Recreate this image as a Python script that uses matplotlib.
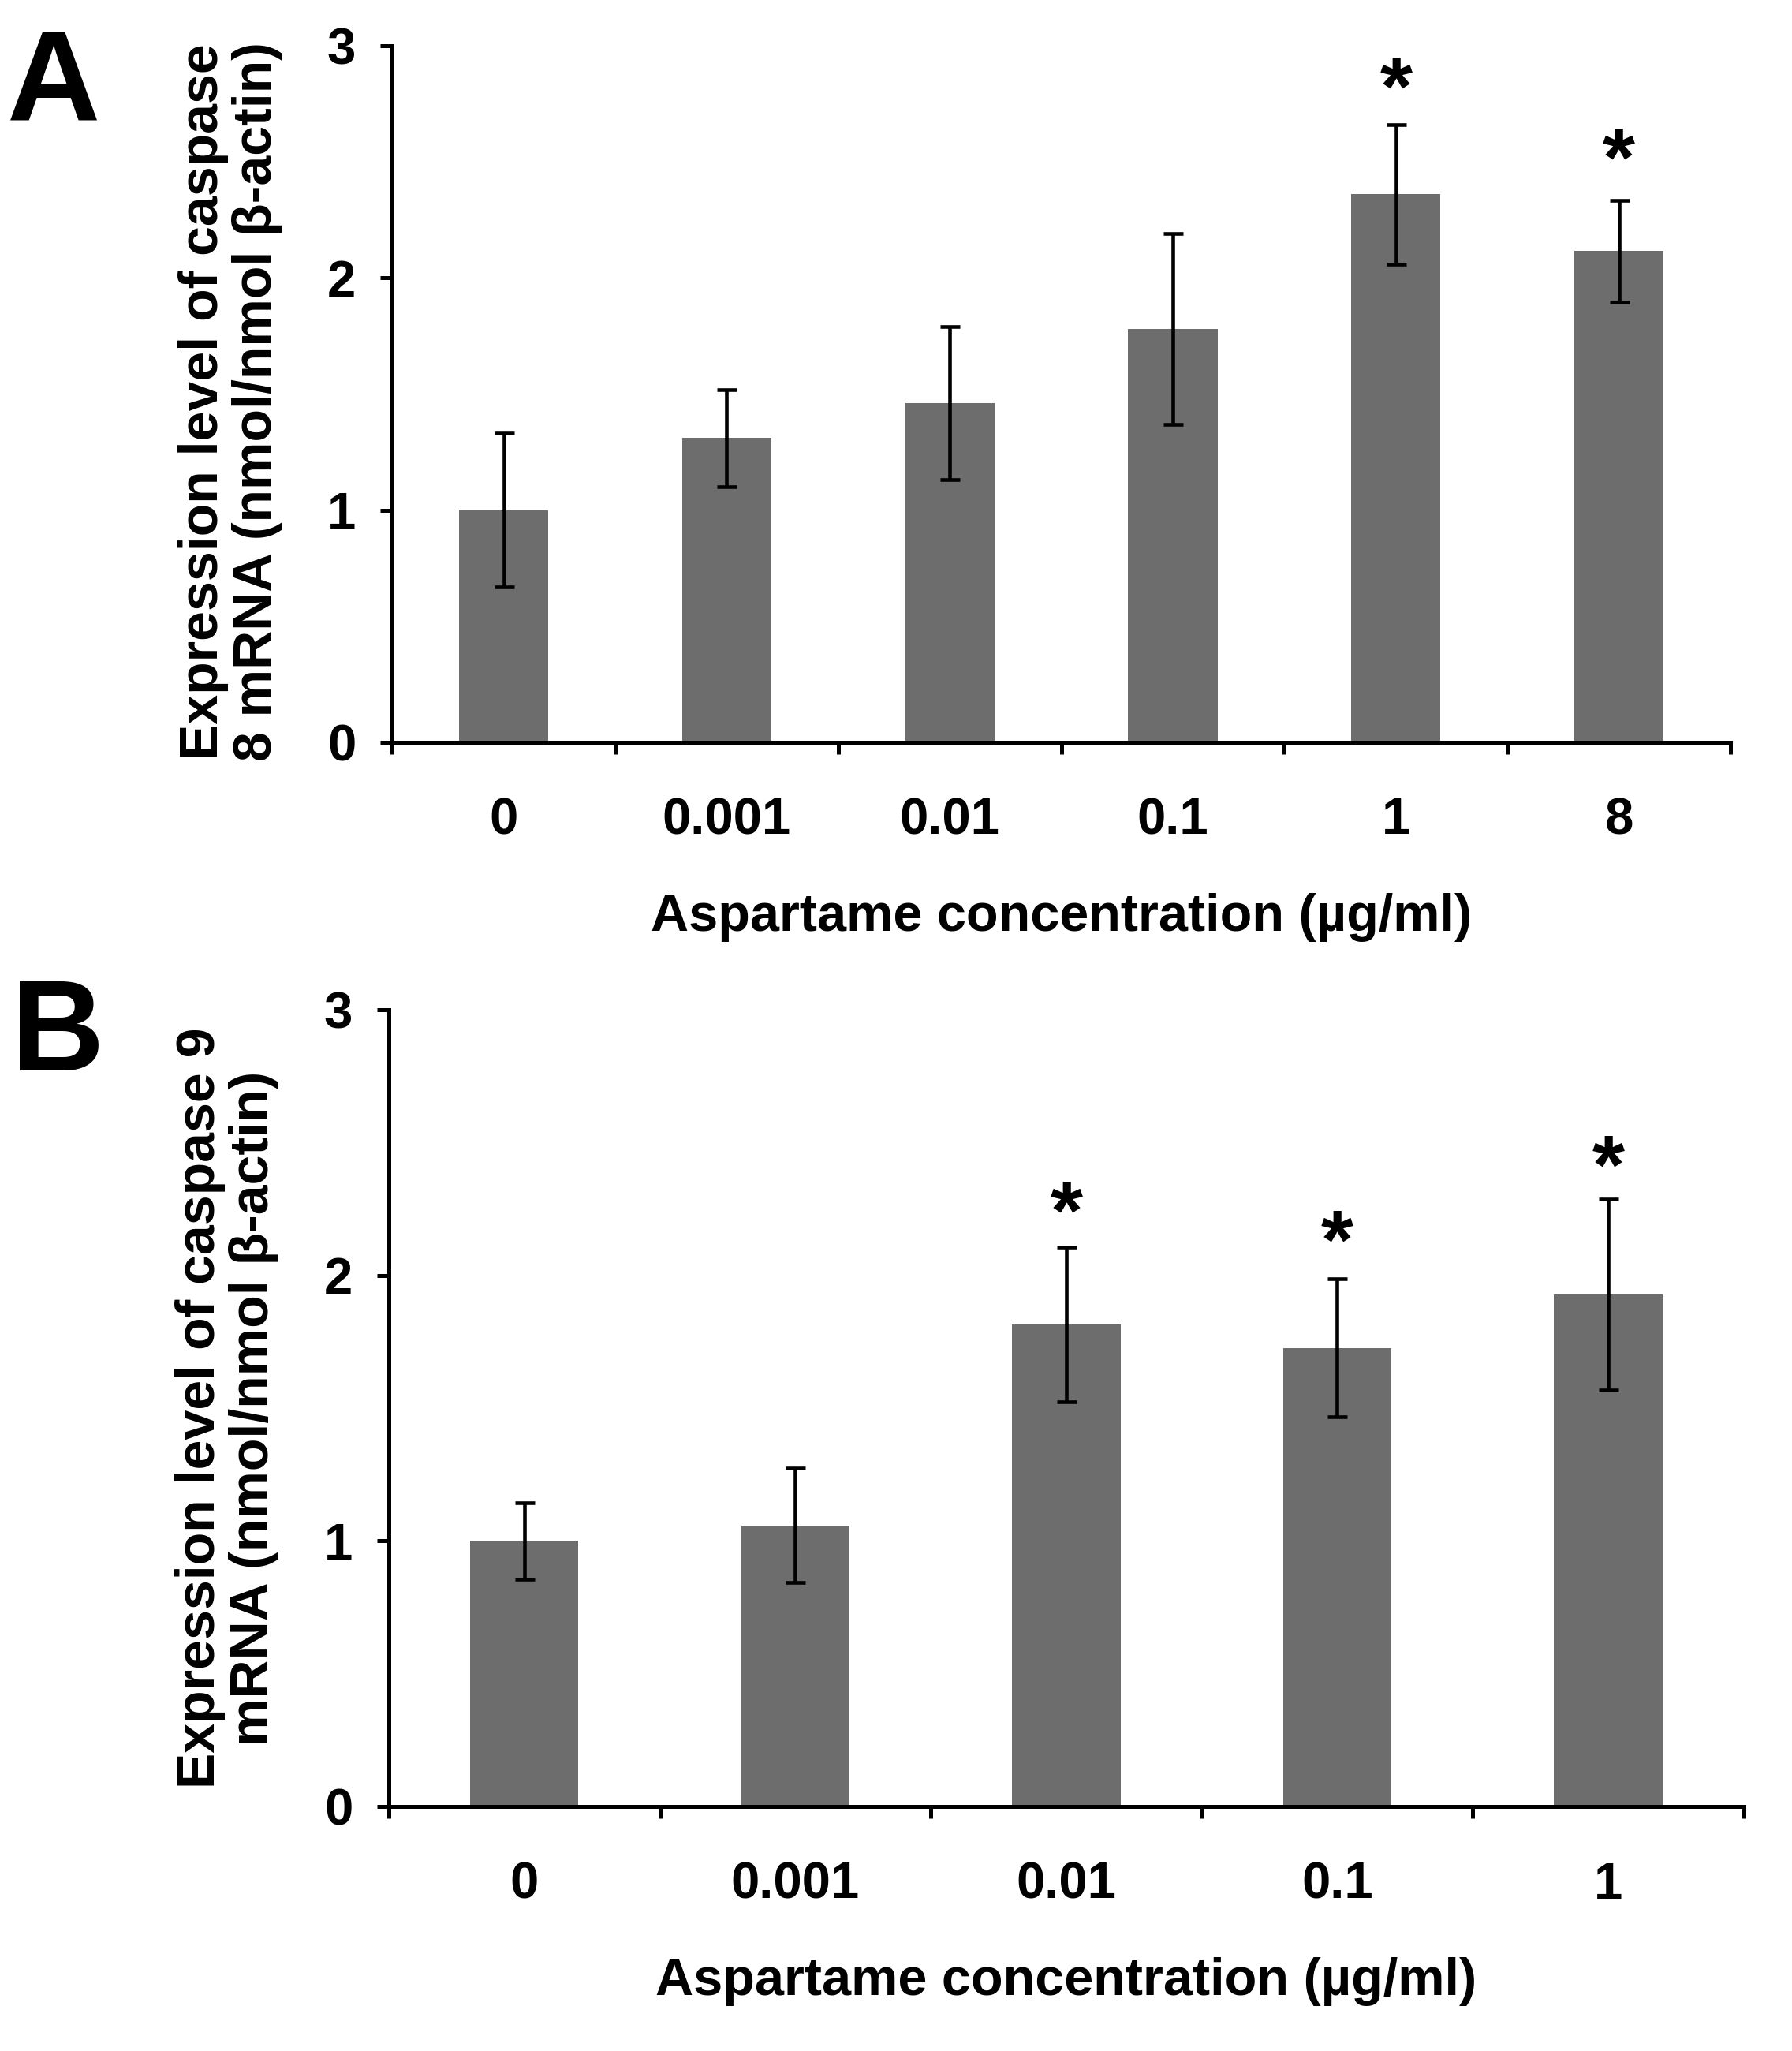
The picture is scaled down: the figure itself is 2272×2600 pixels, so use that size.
import matplotlib
matplotlib.use('Agg')
import matplotlib.pyplot as plt
import numpy as np

plt.rcParams['font.family'] = ['Liberation Sans', 'DejaVu Sans']
plt.rcParams['font.weight'] = 'bold'

# panel A: caspase 8
conc_a = ['0', '0.001', '0.01', '0.1', '1', '8']
mean_a = [1.00, 1.31, 1.46, 1.78, 2.36, 2.115]
err_a = [0.33, 0.21, 0.33, 0.41, 0.30, 0.22]
star_a = [None, None, None, None, 2.875, 2.57]

# panel B: caspase 9
conc_b = ['0', '0.001', '0.01', '0.1', '1']
mean_b = [1.00, 1.058, 1.815, 1.727, 1.928]
err_b = [0.145, 0.215, 0.29, 0.26, 0.36]
star_b = [None, None, 2.29, 2.18, 2.46]

bar_color = '#6d6d6d'
xlabel = 'Aspartame concentration (µg/ml)'
W, H = 2272, 2600


def draw_panel(ax, cats, means, errs, stars, ylabel, ylab_y):
    n = len(cats)
    x = np.arange(n) + 0.5
    ax.bar(x, means, width=0.4, color=bar_color, zorder=2)
    ax.errorbar(x, means, yerr=errs, fmt='none', ecolor='black',
                elinewidth=3.3, capsize=9, capthick=3.3, zorder=3)
    for xi, s in zip(x, stars):
        if s is not None:
            ax.annotate('*', (xi, s), xytext=(0, -17), textcoords='offset points',
                        ha='center', va='center', fontsize=76, fontweight='bold')
    ax.set_xlim(0, n)
    ax.set_ylim(0, 3)
    ax.set_yticks([0, 1, 2, 3])
    ax.set_xticks(x, cats)
    ax.set_xticks(np.arange(n + 1), minor=True)
    for side in ['top', 'right']:
        ax.spines[side].set_visible(False)
    for side in ['left', 'bottom']:
        ax.spines[side].set_linewidth(3.6)
    ax.tick_params(axis='x', which='major', length=0, pad=50, labelsize=47)
    ax.tick_params(axis='x', which='minor', length=11, width=3.6, direction='out')
    ax.tick_params(axis='y', which='major', length=11, width=3.6, direction='out',
                   pad=22, labelsize=47)
    pos = ax.get_position()
    ax_w = pos.width * W
    ax_h = pos.height * H
    ax.set_xlabel(xlabel, fontsize=48, fontweight='bold')
    ax.xaxis.label.set_va('center')
    ax.xaxis.set_label_coords(0.5, -222 / ax_h)
    ax.set_ylabel(ylabel, fontsize=49, fontweight='bold', linespacing=1.07)
    ax.yaxis.label.set_va('center')
    ax.yaxis.set_label_coords(-205 / ax_w, ylab_y)


fig = plt.figure(figsize=(W / 100, H / 100), dpi=100)
ax_a = fig.add_axes([0.2188, 0.6381, 0.7469, 0.3396])
ax_b = fig.add_axes([0.2170, 0.1192, 0.7560, 0.3885])

draw_panel(ax_a, conc_a, mean_a, err_a, star_a,
           'Expression level of caspase\n8 mRNA (nmol/nmol β-actin)', 0.489)
draw_panel(ax_b, conc_b, mean_b, err_b, star_b,
           'Expression level of caspase 9\nmRNA (nmol/nmol β-actin)', 0.5)

fig.text(0.004, 1 - 34 / 2600, 'A', fontsize=118, fontweight='bold', va='top')
fig.text(0.006, 1 - 1238 / 2600, 'B', fontsize=118, fontweight='bold', va='top')

fig.savefig('out.png', dpi=100)
